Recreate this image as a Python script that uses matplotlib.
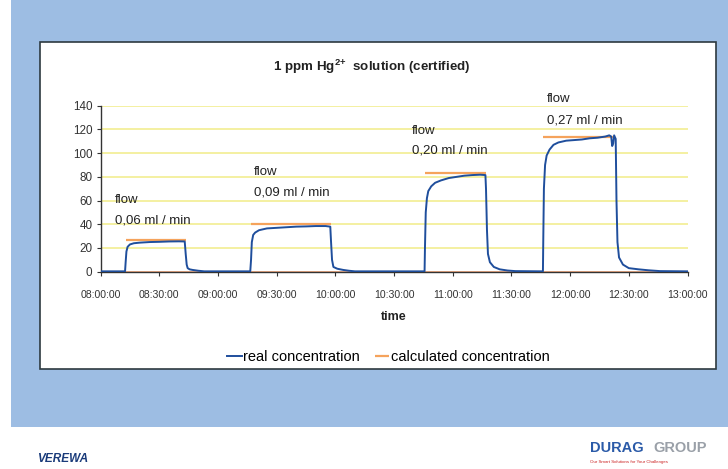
import matplotlib
matplotlib.use("Agg")
import matplotlib.pyplot as plt
from matplotlib.patches import Rectangle
import numpy as np

plt.rcParams['font.family'] = ['Liberation Sans', 'DejaVu Sans']
plt.rcParams['mathtext.fontset'] = 'custom'
plt.rcParams['mathtext.rm'] = 'Liberation Sans:bold'
plt.rcParams['mathtext.bf'] = 'Liberation Sans:bold'
plt.rcParams['mathtext.default'] = 'bf'

# ---------------- data (minutes after 08:00:00) ----------------
real_t = [0, 12.5, 12.8, 13.2, 13.8, 15, 17, 20, 25, 30, 35, 40, 43.0, 43.5, 44.0, 44.5, 45.5, 47, 50, 53, 56,
          76.5, 76.9, 77.3, 78, 79, 81, 85, 90, 95, 100, 105, 110, 115, 117.4, 117.8, 118.3, 119, 121, 124, 127, 130,
          165.6, 165.8, 166.2, 166.8, 167.5, 169, 171, 174, 178, 182, 186, 190, 194, 196.7, 197, 197.5, 198, 199,
          201, 204, 208, 212,
          226.1, 226.3, 226.6, 227.2, 228, 229.5, 231.5, 234, 238, 242, 246, 250, 254, 258, 260, 261, 261.5, 262,
          262.5, 263.3, 263.7, 264.2, 265, 267, 270, 275, 280, 286, 300]
real_v = [0.3, 0.3, 8, 17, 21, 23, 24, 24.5, 25, 25.2, 25.5, 25.6, 25.5, 15, 6, 3, 2, 1.5, 0.8, 0.3, 0.3,
          0.3, 10, 25, 31, 33, 35, 36.5, 37, 37.5, 38, 38.2, 38.5, 38.5, 38, 25, 10, 4, 2.5, 1.5, 0.8, 0.3,
          0.3, 20, 50, 62, 68, 72, 75, 77, 79, 80, 81, 81.5, 81.8, 81.5, 70, 35, 15, 8,
          4, 2, 1, 0.5,
          0.3, 30, 70, 90, 98, 103, 107, 109, 110.5, 111, 111.5, 112.5, 113, 114, 115, 114, 106, 108,
          115, 112, 60, 25, 12, 6, 3, 2, 1.2, 0.5, 0.3]

calc_start = [12.8, 76.9, 165.8, 226.3]
calc_end = [43.6, 117.6, 197.0, 262.0]
calc_level = [27, 40, 83, 114]

flow_rates = ["0,06 ml / min", "0,09 ml / min", "0,20 ml / min", "0,27 ml / min"]
flow_x = [7.4, 78.4, 159.1, 228]
flow_y1 = [60.5, 84.3, 118.9, 145.4]
flow_y2 = [43.6, 66.4, 101.8, 127.4]

xticks = list(range(0, 301, 30))
xticklabels = ["08:00:00", "08:30:00", "09:00:00", "09:30:00", "10:00:00", "10:30:00",
               "11:00:00", "11:30:00", "12:00:00", "12:30:00", "13:00:00"]
yticks = list(range(0, 141, 20))

# ---------------- figure ----------------
W, H = 728, 469
fig = plt.figure(figsize=(W / 100, H / 100), dpi=100)
fig.patch.set_facecolor('white')

def px_rect(x0, y0, x1, y1, **kw):
    fig.patches.append(Rectangle((x0 / W, 1 - y1 / H), (x1 - x0) / W, (y1 - y0) / H,
                                 transform=fig.transFigure, **kw))

px_rect(11, 0, 728, 427, facecolor='#9dbde3', edgecolor='none', zorder=0)
px_rect(40, 42, 716, 369, facecolor='white', edgecolor='#2d3a40', linewidth=1.2, zorder=1)

ax = fig.add_axes([100.6 / W, 1 - 271.7 / H, (687.5 - 100.6) / W, (271.7 - 105.7) / H])
ax.set_facecolor('none')
ax.set_zorder(2)

for y in yticks[1:]:
    ax.axhline(y, color='#f3ef9a', linewidth=1.3, zorder=1)

ax.axhline(0, color='#f0a070', linewidth=1.2, zorder=2)
ax.hlines(calc_level, calc_start, calc_end, color='#f5a35c', linewidth=1.6, zorder=3,
          label='calculated concentration')
ax.plot(real_t, real_v, color='#1f4e9c', linewidth=1.4, zorder=4, label='real concentration')

for rate, x, y1, y2 in zip(flow_rates, flow_x, flow_y1, flow_y2):
    ax.text(x, y1, "flow", fontsize=9.5, color='#222222', va='center', ha='left')
    ax.text(x, y2, rate, fontsize=9.5, color='#222222', va='center', ha='left')

ax.set_xlim(0, 300)
ax.set_ylim(0, 140)
ax.set_xticks(xticks)
ax.set_xticklabels(xticklabels, fontsize=7.6, color='#333333')
ax.set_yticks(yticks)
ax.set_yticklabels([str(v) for v in yticks], fontsize=8.4, color='#333333')
ax.tick_params(axis='both', direction='out', length=3, width=0.8, color='#333333')
ax.tick_params(axis='x', pad=10)
ax.tick_params(axis='y', pad=3)
for s in ['top', 'right']:
    ax.spines[s].set_visible(False)
ax.spines['left'].set_color('#333333')
ax.spines['bottom'].set_color('#333333')
ax.spines['left'].set_linewidth(1.0)
ax.spines['bottom'].set_linewidth(1.0)

ax.set_xlabel('time', fontsize=9, fontweight='bold', labelpad=8, color='#222222')

fig.text(372 / W, 1 - 67 / H, r'1 ppm Hg$^{2{+}}$  solution (certified)', fontsize=9.6,
         fontweight='bold', ha='center', va='center', color='#222222')

handles, labels = ax.get_legend_handles_labels()
order = [labels.index('real concentration'), labels.index('calculated concentration')]
leg = fig.legend([handles[i] for i in order], [labels[i] for i in order],
                 loc='center', bbox_to_anchor=(388.5 / W, 1 - 357 / H), ncol=2, frameon=False,
                 fontsize=10.5, handlelength=1.0, handletextpad=0.1, columnspacing=1.0,
                 borderpad=0)

# footer logos (as text)
fig.text(37 / W, 1 - 459 / H, 'VEREWA', fontsize=8.5, fontweight='bold', fontstyle='italic',
         color='#1a3b7a', ha='left', va='center')
fig.text(590 / W, 1 - 448 / H, 'DURAG', fontsize=10.5, fontweight='bold', color='#2a5aa8',
         ha='left', va='center')
fig.text(653 / W, 1 - 448 / H, 'GROUP', fontsize=10.5, fontweight='bold', color='#9aa0a8',
         ha='left', va='center')
fig.text(590 / W, 1 - 462 / H, 'Our Smart Solutions for Your Challenges', fontsize=3.2,
         color='#cc2222', ha='left', va='center')

fig.savefig('out.png', dpi=100)
